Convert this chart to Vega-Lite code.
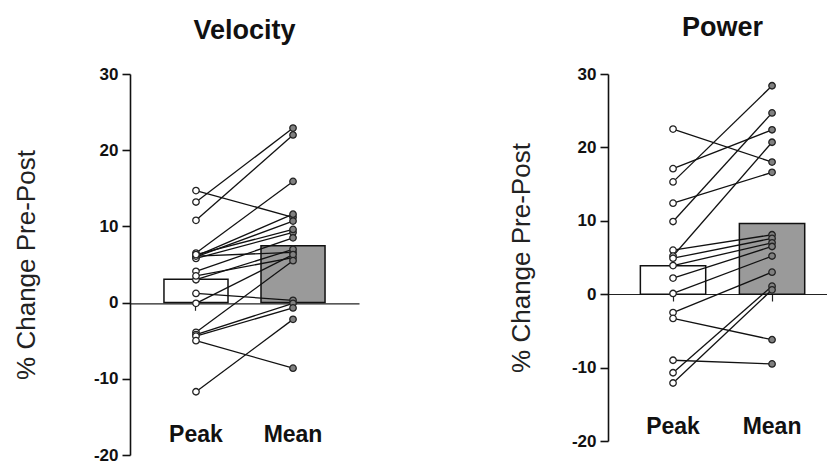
{
  "$schema": "https://vega.github.io/schema/vega-lite/v6.json",
  "padding": {"left": 13, "top": 14, "right": 0, "bottom": 0},
  "background": "white",
  "config": {
    "view": {"stroke": null},
    "font": "Liberation Sans",
    "axis": {"grid": false}
  },
  "datasets": {
    "velocity": [
      {"subject": 1, "measure": "Peak", "value": 14.7}, {"subject": 1, "measure": "Mean", "value": 11.2},
      {"subject": 2, "measure": "Peak", "value": 13.2}, {"subject": 2, "measure": "Mean", "value": 22.9},
      {"subject": 3, "measure": "Peak", "value": 10.8}, {"subject": 3, "measure": "Mean", "value": 22.0},
      {"subject": 4, "measure": "Peak", "value": 6.5}, {"subject": 4, "measure": "Mean", "value": 15.9},
      {"subject": 5, "measure": "Peak", "value": 6.1}, {"subject": 5, "measure": "Mean", "value": 11.6},
      {"subject": 6, "measure": "Peak", "value": 6.0}, {"subject": 6, "measure": "Mean", "value": 10.7},
      {"subject": 7, "measure": "Peak", "value": 5.8}, {"subject": 7, "measure": "Mean", "value": 9.2},
      {"subject": 8, "measure": "Peak", "value": 6.1}, {"subject": 8, "measure": "Mean", "value": 6.6},
      {"subject": 9, "measure": "Peak", "value": 4.1}, {"subject": 9, "measure": "Mean", "value": 8.5},
      {"subject": 10, "measure": "Peak", "value": 3.0}, {"subject": 10, "measure": "Mean", "value": 7.0},
      {"subject": 11, "measure": "Peak", "value": 3.5}, {"subject": 11, "measure": "Mean", "value": 5.9},
      {"subject": 12, "measure": "Peak", "value": 1.2}, {"subject": 12, "measure": "Mean", "value": 0.3},
      {"subject": 13, "measure": "Peak", "value": -0.1}, {"subject": 13, "measure": "Mean", "value": 6.3},
      {"subject": 14, "measure": "Peak", "value": -3.9}, {"subject": 14, "measure": "Mean", "value": 5.5},
      {"subject": 15, "measure": "Peak", "value": -4.2}, {"subject": 15, "measure": "Mean", "value": -0.1},
      {"subject": 16, "measure": "Peak", "value": -4.4}, {"subject": 16, "measure": "Mean", "value": -0.7},
      {"subject": 17, "measure": "Peak", "value": -5.0}, {"subject": 17, "measure": "Mean", "value": -8.6},
      {"subject": 18, "measure": "Peak", "value": -11.7}, {"subject": 18, "measure": "Mean", "value": -2.2},
      {"subject": 19, "measure": "Peak", "value": 6.3}, {"subject": 19, "measure": "Mean", "value": 9.6}
    ],
    "power": [
      {"subject": 1, "measure": "Peak", "value": 22.5}, {"subject": 1, "measure": "Mean", "value": 18.0},
      {"subject": 2, "measure": "Peak", "value": 17.1}, {"subject": 2, "measure": "Mean", "value": 22.4},
      {"subject": 3, "measure": "Peak", "value": 15.3}, {"subject": 3, "measure": "Mean", "value": 28.4},
      {"subject": 4, "measure": "Peak", "value": 12.4}, {"subject": 4, "measure": "Mean", "value": 16.6},
      {"subject": 5, "measure": "Peak", "value": 9.9}, {"subject": 5, "measure": "Mean", "value": 24.7},
      {"subject": 6, "measure": "Peak", "value": 6.0}, {"subject": 6, "measure": "Mean", "value": 8.1},
      {"subject": 7, "measure": "Peak", "value": 5.2}, {"subject": 7, "measure": "Mean", "value": 20.7},
      {"subject": 8, "measure": "Peak", "value": 4.9}, {"subject": 8, "measure": "Mean", "value": 7.6},
      {"subject": 9, "measure": "Peak", "value": 3.9}, {"subject": 9, "measure": "Mean", "value": 7.0},
      {"subject": 10, "measure": "Peak", "value": 2.2}, {"subject": 10, "measure": "Mean", "value": 6.5},
      {"subject": 11, "measure": "Peak", "value": 0.1}, {"subject": 11, "measure": "Mean", "value": 5.2},
      {"subject": 12, "measure": "Peak", "value": -2.5}, {"subject": 12, "measure": "Mean", "value": 3.0},
      {"subject": 13, "measure": "Peak", "value": -3.3}, {"subject": 13, "measure": "Mean", "value": -6.2},
      {"subject": 14, "measure": "Peak", "value": -9.0}, {"subject": 14, "measure": "Mean", "value": -9.5},
      {"subject": 15, "measure": "Peak", "value": -10.7}, {"subject": 15, "measure": "Mean", "value": 1.1},
      {"subject": 16, "measure": "Peak", "value": -12.1}, {"subject": 16, "measure": "Mean", "value": 0.6}
    ]
  },
  "spacing": 149,
  "hconcat": [
    {
      "width": 229,
      "height": 381,
      "data": {"name": "velocity"},
      "title": {"text": "Velocity", "fontSize": 27, "fontWeight": "bold", "font": "Liberation Sans", "color": "#111", "frame": "group", "offset": 20},
      "encoding": {
        "x": {
          "field": "measure", "type": "nominal", "sort": ["Peak", "Mean"],
          "scale": {"paddingInner": 0, "paddingOuter": 0.18, "align": 0.5},
          "axis": {"title": null, "orient": "bottom", "offset": -151.7, "labelAngle": 0, "domainColor": "#222", "domainWidth": 1.2, "tickColor": "#222", "tickWidth": 1.2, "tickSize": 7, "labelPadding": 113, "labelFontSize": 23, "labelFontWeight": "bold", "labelColor": "#111", "labelFont": "Liberation Sans"}
        },
        "y": {
          "type": "quantitative",
          "scale": {"domain": [-20, 30], "nice": false, "zero": false},
          "axis": {"title": "% Change Pre-Post", "values": [-20, -10, 0, 10, 20, 30], "labelExpr": "'' + datum.value", "titleFontSize": 26, "titleFontWeight": "normal", "titleColor": "#222", "titleFont": "Liberation Sans", "titlePadding": 54, "domainColor": "#111", "domainWidth": 1.6, "tickColor": "#111", "tickWidth": 1.6, "tickSize": 8, "labelPadding": 4, "labelFontSize": 17, "labelFontWeight": "bold", "labelColor": "#111", "labelFont": "Liberation Sans"}
        }
      },
      "layer": [
        {
          "mark": {"type": "bar", "stroke": "#111", "strokeWidth": 1.5, "width": {"band": 0.66}},
          "encoding": {
            "y": {"aggregate": "mean", "field": "value", "type": "quantitative"},
            "fill": {"condition": {"test": "datum.measure === 'Mean'", "value": "#9a9a9a"}, "value": "white"}
          }
        },
        {
          "mark": {"type": "line", "color": "#111", "strokeWidth": 1.3},
          "encoding": {"y": {"field": "value", "type": "quantitative"}, "detail": {"field": "subject", "type": "nominal"}}
        },
        {
          "mark": {"type": "point", "filled": true, "size": 42, "stroke": "#222", "strokeWidth": 1.3, "opacity": 1},
          "encoding": {
            "y": {"field": "value", "type": "quantitative"},
            "fill": {"condition": {"test": "datum.measure === 'Mean'", "value": "#808080"}, "value": "white"}
          }
        }
      ]
    },
    {
      "width": 219,
      "height": 367,
      "data": {"name": "power"},
      "title": {"text": "Power", "fontSize": 27, "fontWeight": "bold", "font": "Liberation Sans", "color": "#111", "frame": "group", "offset": 23, "dx": 5},
      "encoding": {
        "x": {
          "field": "measure", "type": "nominal", "sort": ["Peak", "Mean"],
          "scale": {"paddingInner": 0, "paddingOuter": 0.106, "align": 0.74},
          "axis": {"title": null, "orient": "bottom", "offset": -147, "labelAngle": 0, "domainColor": "#222", "domainWidth": 1.2, "tickColor": "#222", "tickWidth": 1.2, "tickSize": 7, "labelPadding": 114, "labelFontSize": 23, "labelFontWeight": "bold", "labelColor": "#111", "labelFont": "Liberation Sans"}
        },
        "y": {
          "type": "quantitative",
          "scale": {"domain": [-20, 30], "nice": false, "zero": false},
          "axis": {"title": "% Change Pre-Post", "values": [-20, -10, 0, 10, 20, 30], "labelExpr": "'' + datum.value", "titleFontSize": 26, "titleFontWeight": "normal", "titleColor": "#222", "titleFont": "Liberation Sans", "titlePadding": 37, "domainColor": "#111", "domainWidth": 1.6, "tickColor": "#111", "tickWidth": 1.6, "tickSize": 8, "labelPadding": 4, "labelFontSize": 17, "labelFontWeight": "bold", "labelColor": "#111", "labelFont": "Liberation Sans"}
        }
      },
      "layer": [
        {
          "mark": {"type": "bar", "stroke": "#111", "strokeWidth": 1.5, "width": {"band": 0.66}},
          "encoding": {
            "y": {"aggregate": "mean", "field": "value", "type": "quantitative"},
            "fill": {"condition": {"test": "datum.measure === 'Mean'", "value": "#9a9a9a"}, "value": "white"}
          }
        },
        {
          "mark": {"type": "line", "color": "#111", "strokeWidth": 1.3},
          "encoding": {"y": {"field": "value", "type": "quantitative"}, "detail": {"field": "subject", "type": "nominal"}}
        },
        {
          "mark": {"type": "point", "filled": true, "size": 42, "stroke": "#222", "strokeWidth": 1.3, "opacity": 1},
          "encoding": {
            "y": {"field": "value", "type": "quantitative"},
            "fill": {"condition": {"test": "datum.measure === 'Mean'", "value": "#808080"}, "value": "white"}
          }
        }
      ]
    }
  ]
}
